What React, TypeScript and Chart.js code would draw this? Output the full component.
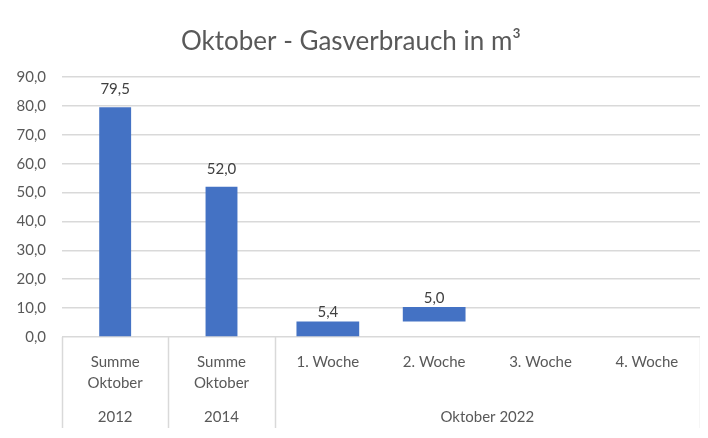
import { useEffect, useRef } from "react"
import { Chart, registerables } from "chart.js"

Chart.register(...registerables)

// data
const kategorien: (string | string[])[] = [
  ["Summe", "Oktober"],
  ["Summe", "Oktober"],
  "1. Woche",
  "2. Woche",
  "3. Woche",
  "4. Woche",
]
const gruppen = ["2012", "2014", "Oktober 2022"]
const gruppenSpannen = [1, 1, 4]
const summenWerte = [79.5, 52.0]
const wochenWerte: (number | null)[] = [5.4, 5.0, null, null]
const yMax = 90
const yStep = 10

const FONT = "Lato, Carlito, 'Liberation Sans', sans-serif"
const fmt = (v: number) => v.toFixed(1).replace(".", ",")

// totals as plain bars, weeks as floating (waterfall) bars
const summeData = [...summenWerte, ...wochenWerte.map(() => null)]
let laufend = 0
const wochenData = [
  ...summenWerte.map(() => null),
  ...wochenWerte.map((v) => {
    if (v == null) return null
    const r = [laufend, laufend + v]
    laufend += v
    return r
  }),
]

const labelOffsets = [18, 9]

const wertLabels = {
  id: "wertLabels",
  afterDatasetsDraw(chart: Chart) {
    const ctx = chart.ctx
    ctx.save()
    ctx.font = `15px ${FONT}`
    ctx.fillStyle = "#404040"
    ctx.textAlign = "center"
    ctx.textBaseline = "middle"
    chart.data.datasets.forEach((ds, di) => {
      const meta = chart.getDatasetMeta(di)
      meta.data.forEach((el: any, i) => {
        const raw = ds.data[i] as any
        if (raw == null) return
        const v = Array.isArray(raw) ? raw[1] - raw[0] : raw
        ctx.fillText(fmt(v), el.x, el.y - labelOffsets[di])
      })
    })
    ctx.restore()
  },
}

const gruppenAchse = {
  id: "gruppenAchse",
  afterDraw(chart: Chart) {
    const x = chart.scales.x
    const area = chart.chartArea
    const ctx = chart.ctx
    const n = kategorien.length
    const kante = (i: number) => {
      if (i <= 0) return area.left
      if (i >= n) return area.right
      return (x.getPixelForTick(i - 1) + x.getPixelForTick(i)) / 2
    }
    const unten = chart.height - 8
    ctx.save()
    ctx.strokeStyle = "#d9d9d9"
    ctx.lineWidth = 1.5
    // separators
    const grenzen = [0]
    gruppenSpannen.forEach((s) => grenzen.push(grenzen[grenzen.length - 1] + s))
    grenzen.forEach((g) => {
      const px = Math.round(kante(g)) + 0.5
      ctx.beginPath()
      ctx.moveTo(px, area.bottom)
      ctx.lineTo(px, unten)
      ctx.stroke()
    })
    ctx.font = `15px ${FONT}`
    ctx.fillStyle = "#595959"
    ctx.textAlign = "center"
    ctx.textBaseline = "middle"
    gruppen.forEach((g, i) => {
      const mitte = (kante(grenzen[i]) + kante(grenzen[i + 1])) / 2
      ctx.fillText(g, mitte, area.bottom + 80)
    })
    ctx.restore()
  },
}

export default function App() {
  const chartRef = useRef<HTMLCanvasElement>(null)
  const chartInstance = useRef<Chart | null>(null)

  useEffect(() => {
    if (!chartRef.current) return
    if (chartInstance.current) chartInstance.current.destroy()
    const ctx = chartRef.current.getContext("2d")
    if (!ctx) return

    chartInstance.current = new Chart(ctx, {
      type: "bar",
      data: {
        labels: kategorien,
        datasets: [
          {
            label: "Summe Oktober",
            data: summeData as any,
            backgroundColor: "#4472c4",
            barPercentage: 0.3,
            categoryPercentage: 1,
            grouped: false,
          },
          {
            label: "Wochen",
            data: wochenData as any,
            backgroundColor: "#4472c4",
            barPercentage: 0.59,
            categoryPercentage: 1,
            grouped: false,
          },
        ],
      },
      options: {
        animation: false,
        responsive: false,
        maintainAspectRatio: false,
        layout: { padding: { left: 0, right: 8, top: 0, bottom: 0 } },
        plugins: {
          legend: { display: false },
          tooltip: { enabled: false },
          title: {
            display: true,
            text: "Oktober - Gasverbrauch in m³",
            color: "#595959",
            font: { family: FONT, size: 26, weight: "normal" },
            padding: { top: 21, bottom: 19.8 },
          },
        },
        scales: {
          y: {
            min: 0,
            max: yMax,
            ticks: {
              stepSize: yStep,
              color: "#595959",
              font: { family: FONT, size: 15 },
              padding: 16,
              callback: (v) => fmt(Number(v)),
            },
            grid: { color: "#d9d9d9", lineWidth: 1.5, drawTicks: false },
            border: { display: false },
            afterFit: (s: any) => {
              s.width = 60
            },
          },
          x: {
            ticks: {
              color: "#595959",
              font: { family: FONT, size: 15, lineHeight: 1.4 },
              padding: 7,
              maxRotation: 0,
              autoSkip: false,
            },
            grid: { display: false },
            border: { display: false },
            afterFit: (s: any) => {
              s.height = 99
            },
          },
        },
      },
      plugins: [wertLabels, gruppenAchse],
    })

    return () => {
      if (chartInstance.current) {
        chartInstance.current.destroy()
        chartInstance.current = null
      }
    }
  }, [])

  const stubs = [175, 252, 372, 492, 611]

  return (
    <div style={{ position: "relative", width: 708, height: 438, background: "#fff", margin: -8, overflow: "hidden" }}>
      {stubs.map((x) => (
        <div key={x} style={{ position: "absolute", left: x, top: 0, width: 1, height: 4, background: "#d9d9d9" }} />
      ))}
      <div style={{ position: "absolute", left: 0, top: 4, width: 708, height: 1.5, background: "#d9d9d9" }} />
      <div style={{ position: "absolute", left: 1, top: 4, width: 1.5, height: 433, background: "#d9d9d9" }} />
      <div style={{ position: "absolute", left: 0, top: 436, width: 708, height: 1.5, background: "#d9d9d9" }} />
      <div style={{ position: "absolute", left: 2, top: 5, width: 706, height: 431 }}>
        <canvas ref={chartRef} width={706} height={431} style={{ width: 706, height: 431 }} />
      </div>
    </div>
  )
}
